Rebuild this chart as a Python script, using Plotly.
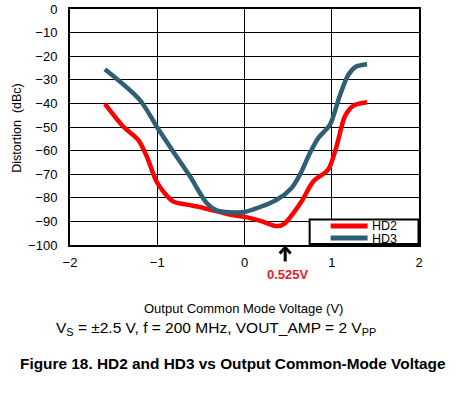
import plotly.graph_objects as go

# HD2 (red) data: output common mode voltage (V) vs distortion (dBc)
hd2_x = [-1.6, -1.39, -1.22, -1.12, -1.0, -0.82, -0.66, -0.47, -0.17, 0.0, 0.2, 0.37, 0.46, 0.56, 0.655, 0.79, 0.96, 1.055, 1.15, 1.245, 1.405]
hd2_y = [-40.2, -49.8, -55.4, -62.5, -73.7, -81.5, -82.9, -84.3, -87.1, -88.1, -90.0, -92.0, -90.9, -86.5, -81.5, -73.0, -68.0, -58.2, -45.5, -41.0, -39.5]

# HD3 (dark teal) data
hd3_x = [-1.6, -1.2, -1.0, -0.82, -0.625, -0.434, -0.32, -0.17, 0.0, 0.37, 0.54, 0.635, 0.75, 0.845, 0.98, 1.09, 1.19, 1.28, 1.405]
hd3_y = [-25.5, -38.5, -50.2, -60.3, -70.9, -82.2, -85.3, -86.1, -86.0, -80.8, -75.8, -70.2, -61.0, -54.7, -49.0, -37.0, -27.9, -24.4, -23.4]

x_ticks = [-2, -1, 0, 1, 2]
y_ticks = [0, -10, -20, -30, -40, -50, -60, -70, -80, -90, -100]

RED = "#ff0000"
TEAL = "#2f5f74"
FONT = "Liberation Sans, Arial, sans-serif"

W, H = 473, 395
PL, PR, PT, PB = 70, 419.5, 9, 245.5  # plot box in page pixels
L, R, T, B = PL, W - PR, PT, H - PB
PW, PH = W - L - R, H - T - B


def px(xp):
    return (xp - L) / PW


def py(yp):
    return (H - B - yp) / PH


fig = go.Figure()
fig.add_trace(go.Scatter(x=hd2_x, y=hd2_y, mode="lines", name="HD2", showlegend=False,
                         line=dict(color=RED, width=4.5, shape="spline", smoothing=0.8)))
fig.add_trace(go.Scatter(x=hd3_x, y=hd3_y, mode="lines", name="HD3", showlegend=False,
                         line=dict(color=TEAL, width=4.5, shape="spline", smoothing=0.8)))

axis_common = dict(showgrid=True, gridcolor="black", gridwidth=1, showline=True, linecolor="black",
                   linewidth=2, mirror=True, zeroline=False, ticks="", automargin=False,
                   tickfont=dict(size=13, color="black", family=FONT))

fig.update_layout(
    width=W, height=H,
    margin=dict(l=L, r=R, t=T, b=B),
    paper_bgcolor="white", plot_bgcolor="white",
    font=dict(family=FONT, size=12, color="black"),
    showlegend=False,
    xaxis=dict(range=[-2, 2], tickvals=x_ticks, ticklabelstandoff=4, **axis_common),
    yaxis=dict(range=[-100, 0], tickvals=y_ticks, ticklabelstandoff=8, **axis_common),
)

# Axis titles
fig.add_annotation(xref="paper", yref="paper", x=px(17), y=py(128), text="Distortion  (dBc)",
                   textangle=-90, showarrow=False, font=dict(size=12.5), xanchor="center", yanchor="middle")
fig.add_annotation(xref="paper", yref="paper", x=px(243.5), y=py(309), text="Output Common Mode Voltage (V)",
                   showarrow=False, font=dict(size=13), xanchor="center", yanchor="middle")

# Legend drawn as a box with sample lines
fig.add_shape(type="rect", xref="paper", yref="paper", x0=px(310), x1=px(419), y0=py(244.5), y1=py(220),
              line=dict(color="black", width=2), fillcolor="white", layer="above")
fig.add_shape(type="line", xref="paper", yref="paper", x0=px(331), x1=px(368), y0=py(226.5), y1=py(226.5),
              line=dict(color=RED, width=5), layer="above")
fig.add_shape(type="line", xref="paper", yref="paper", x0=px(331), x1=px(368), y0=py(238.5), y1=py(238.5),
              line=dict(color=TEAL, width=5), layer="above")
fig.add_annotation(xref="paper", yref="paper", x=px(370), y=py(226.5), text="HD2", showarrow=False,
                   font=dict(size=12.5), xanchor="left", yanchor="middle")
fig.add_annotation(xref="paper", yref="paper", x=px(370), y=py(239.5), text="HD3", showarrow=False,
                   font=dict(size=12.5), xanchor="left", yanchor="middle")

# Arrow marking the minimum
fig.add_shape(type="line", xref="paper", yref="paper", x0=px(285.5), x1=px(285.5), y0=py(262), y1=py(249),
              line=dict(color="black", width=3))
fig.add_shape(type="path", xref="paper", yref="paper",
              path=f"M {px(280)} {py(254)} L {px(285.5)} {py(248)} L {px(291)} {py(254)}",
              line=dict(color="black", width=3))
fig.add_annotation(xref="paper", yref="paper", x=px(288), y=py(275), text="<b>0.525V</b>", showarrow=False,
                   font=dict(size=13, color="#e8202a"), xanchor="center", yanchor="middle")

# Test conditions line and figure caption
fig.add_annotation(xref="paper", yref="paper", x=px(216), y=py(329),
                   text="V<sub>S</sub> = ±2.5 V, f = 200 MHz, VOUT_AMP = 2 V<sub>PP</sub>",
                   showarrow=False, font=dict(size=15.5, color="black"), xanchor="center", yanchor="middle")
fig.add_annotation(xref="paper", yref="paper", x=px(233.5), y=py(364),
                   text="<b>Figure 18. HD2 and HD3 vs Output Common-Mode Voltage</b>",
                   showarrow=False, font=dict(size=15.4, color="black"), xanchor="center", yanchor="middle")

# Remove the browser's default 8px body margin so the figure sits at the page origin
fig.write_html("out.html", config={"displayModeBar": False},
               post_script="document.body.style.margin='0px';")
